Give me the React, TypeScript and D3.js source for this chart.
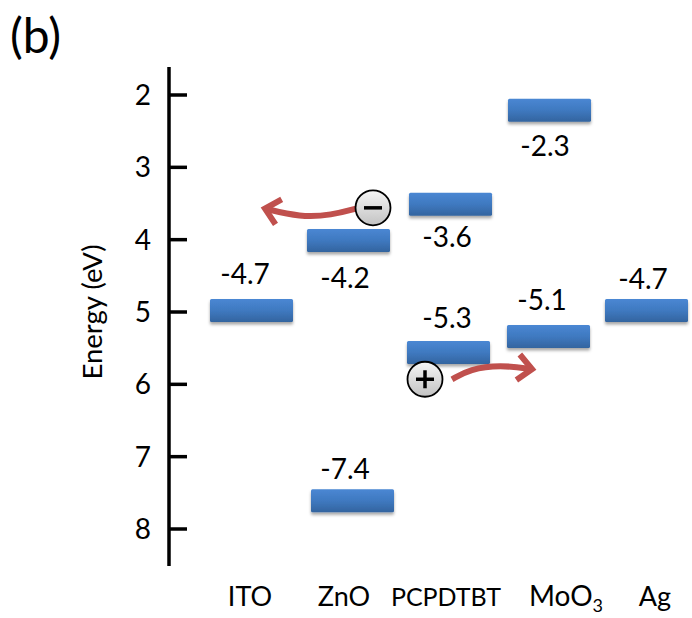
import React from "react";
import * as d3 from "d3";

const W = 692, H = 618;
const yTicks = [2, 3, 4, 5, 6, 7, 8];
const categories = ["ITO", "ZnO", "PCPDTBT", "MoO", "Ag"];
const categoryPos = [250, 344, 446, 566, 655];
const levelNames = ["ITO", "ZnO-top", "ZnO-bottom", "PCPDTBT-top", "PCPDTBT-bottom", "MoO3-top", "MoO3-bottom", "Ag"];
const levelX = [251.5, 348.5, 352.5, 450.5, 448.5, 549.5, 548.5, 646.5];
const levelE = [4.98, 4.01, 7.61, 3.51, 5.56, 2.21, 5.34, 4.98];
const levelText = ["-4.7", "-4.2", "-7.4", "-3.6", "-5.3", "-2.3", "-5.1", "-4.7"];
const labelX = [245, 345, 345, 447, 447, 545, 542, 643];
const labelE = [4.48, 4.53, 7.18, 3.96, 5.09, 2.71, 4.83, 4.55];
const chargeX = [373, 425];
const chargeE = [3.56, 5.93];
const chargeSign = ["-", "+"];
const electronArrowX = [356, 332, 300, 265];
const electronArrowE = [3.57, 3.66, 3.69, 3.57];
const holeArrowX = [452, 470, 500, 532];
const holeArrowE = [5.93, 5.79, 5.73, 5.79];

const BAR_W = 83, BAR_H = 23;
const y = d3.scaleLinear().domain([2, 8]).range([95, 529]);
const x = d3.scaleLinear().domain([0, W]).range([0, W]);
const curve = d3.line<[number, number]>().x(d => x(d[0])).y(d => y(d[1])).curve(d3.curveBasis);
const FONT = "Lato, Carlito, 'Open Sans', sans-serif";
const RED = "#c0504d";

function Arrow({ xs, es }: { xs: number[]; es: number[] }) {
  const pts = xs.map((v, i) => [v, es[i]] as [number, number]);
  const [tx, te] = pts[pts.length - 1];
  const [px, pe] = pts[pts.length - 2];
  const a = Math.atan2(y(te) - y(pe), x(tx) - x(px));
  const sz = 19;
  const head = [a + 2.4, a - 2.4].map(t => [x(tx) + sz * Math.cos(t), y(te) + sz * Math.sin(t)]);
  return (
    <g fill="none" stroke={RED} strokeWidth={6} strokeLinejoin="miter">
      <path d={curve(pts) ?? ""} />
      <path d={`M${head[0][0]},${head[0][1]}L${x(tx)},${y(te)}L${head[1][0]},${head[1][1]}`} />
    </g>
  );
}

export default function App() {
  return (
    <svg width={W} height={H} viewBox={`0 0 ${W} ${H}`}
      style={{ position: "absolute", left: 0, top: 0, background: "#fff" }} fontFamily={FONT}>
      <defs>
        <linearGradient id="bar" x1="0" y1="0" x2="0" y2="1">
          <stop offset="0" stopColor="#4a87d3" />
          <stop offset="0.5" stopColor="#3f79c0" />
          <stop offset="1" stopColor="#33649f" />
        </linearGradient>
        <linearGradient id="ball" x1="0" y1="0" x2="0" y2="1">
          <stop offset="0" stopColor="#f6f6f6" />
          <stop offset="1" stopColor="#c2c2c2" />
        </linearGradient>
        <filter id="sh" x="-10%" y="-30%" width="120%" height="180%">
          <feDropShadow dx="0" dy="2.5" stdDeviation="1.6" floodColor="#000" floodOpacity="0.35" />
        </filter>
      </defs>

      <text x={10} y={53} fontSize={48} fill="#000">(b)</text>

      <line x1={169} x2={169} y1={67} y2={566} stroke="#000" strokeWidth={3.5} />
      {yTicks.map(t => (
        <g key={t}>
          <line x1={169} x2={187} y1={y(t)} y2={y(t)} stroke="#000" strokeWidth={3.5} />
          <text x={151} y={y(t)} dy="0.36em" textAnchor="end" fontSize={28} fill="#000">{t}</text>
        </g>
      ))}
      <text transform={`translate(102,${y(5.0)}) rotate(-90)`} textAnchor="middle" fontSize={27.5} fill="#000">
        Energy (eV)
      </text>

      {levelNames.map((n, i) => (
        <g key={n}>
          <rect x={x(levelX[i]) - BAR_W / 2} y={y(levelE[i]) - BAR_H / 2} width={BAR_W} height={BAR_H}
            rx={1.5} fill="url(#bar)" filter="url(#sh)" />
          <text x={x(labelX[i])} y={y(labelE[i])} dy="0.35em" textAnchor="middle" fontSize={28} fill="#000">
            {levelText[i]}
          </text>
        </g>
      ))}

      <Arrow xs={electronArrowX} es={electronArrowE} />
      <Arrow xs={holeArrowX} es={holeArrowE} />

      {chargeX.map((cx, i) => (
        <g key={i}>
          <circle cx={x(cx)} cy={y(chargeE[i])} r={17.5} fill="url(#ball)" stroke="#000" strokeWidth={1.8} />
          <line x1={x(cx) - 9} x2={x(cx) + 9} y1={y(chargeE[i])} y2={y(chargeE[i])} stroke="#000" strokeWidth={3.5} />
          {chargeSign[i] === "+" && (
            <line x1={x(cx)} x2={x(cx)} y1={y(chargeE[i]) - 9} y2={y(chargeE[i]) + 9} stroke="#000" strokeWidth={3.5} />
          )}
        </g>
      ))}

      {categories.map((c, i) => (
        <text key={c} x={x(categoryPos[i])} y={606} textAnchor="middle" fontSize={c === "PCPDTBT" ? 25 : c === "MoO" ? 28 : 27} fill="#000">
          {c}
          {c === "MoO" && <tspan fontSize={18} dy={6}>3</tspan>}
        </text>
      ))}
    </svg>
  );
}
